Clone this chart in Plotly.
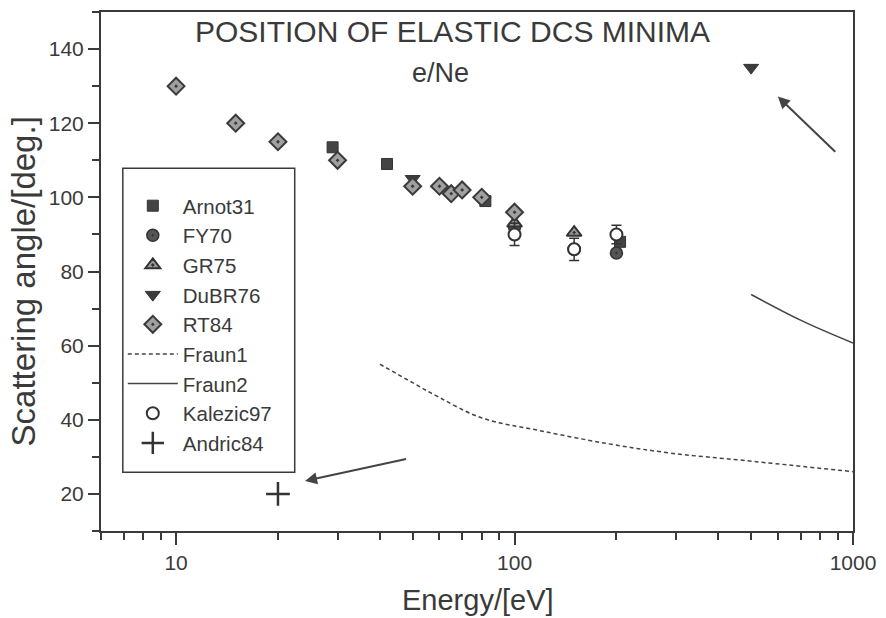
import plotly.graph_objects as go
import math

# ---- data ----
arnot_x = [29, 42, 82, 205]
arnot_y = [113.5, 109, 99, 88]
fy70_x = [100, 150, 200]
fy70_y = [92, 86, 85]
gr75_x = [100, 150]
gr75_y = [93, 90.5]
dubr_x = [50, 500]
dubr_y = [105, 135]
rt84_x = [10, 15, 20, 30, 50, 60, 65, 70, 80, 100]
rt84_y = [130, 120, 115, 110, 103, 103, 101, 102, 100, 96]
fraun1_x = [40, 50, 60, 80, 120, 190, 290, 480, 1000]
fraun1_y = [55, 50, 46, 40.5, 37, 33.5, 31, 29, 26]
fraun2_x = [500, 710, 1000]
fraun2_y = [73.8, 66.6, 60.7]
kal_x = [100, 150, 200]
kal_y = [90, 86, 90]
kal_err = [3, 3, 2.5]
andric_x = [20]
andric_y = [20]

DARK = "#3a3a3a"
FONT = "Liberation Sans, Arial, sans-serif"

fig = go.Figure()
fig.add_trace(go.Scatter(x=arnot_x, y=arnot_y, mode="markers", name="Arnot31",
                         marker=dict(symbol="square", size=11, color="#444444",
                                     line=dict(color="#333333", width=1))))
fig.add_trace(go.Scatter(x=fy70_x, y=fy70_y, mode="markers", name="FY70",
                         marker=dict(symbol="circle-dot", size=12, color="#555555",
                                     line=dict(color="#333333", width=1.5))))
fig.add_trace(go.Scatter(x=gr75_x, y=gr75_y, mode="markers", name="GR75",
                         marker=dict(symbol="triangle-up-dot", size=13, color="#9a9a9a",
                                     line=dict(color="#333333", width=2))))
fig.add_trace(go.Scatter(x=dubr_x, y=dubr_y, mode="markers", name="DuBR76",
                         marker=dict(symbol="triangle-down", size=13, color="#3c3c3c",
                                     line=dict(color="#333333", width=1))))
fig.add_trace(go.Scatter(x=rt84_x, y=rt84_y, mode="markers", name="RT84",
                         marker=dict(symbol="diamond-dot", size=13, color="#a0a0a0",
                                     line=dict(color="#3a3a3a", width=2))))
fig.add_trace(go.Scatter(x=fraun1_x, y=fraun1_y, mode="lines", name="Fraun1",
                         line=dict(color="#444444", width=1.5, dash="4px,3px", shape="spline")))
fig.add_trace(go.Scatter(x=fraun2_x, y=fraun2_y, mode="lines", name="Fraun2",
                         line=dict(color="#444444", width=1.5, shape="spline")))
fig.add_trace(go.Scatter(x=kal_x, y=kal_y, mode="markers", name="Kalezic97",
                         error_y=dict(type="data", array=kal_err, color="#333333",
                                      thickness=1.5, width=5),
                         marker=dict(symbol="circle", size=12, color="white",
                                     line=dict(color="#333333", width=2))))
fig.add_trace(go.Scatter(x=andric_x, y=andric_y, mode="markers", name="Andric84",
                         marker=dict(symbol="cross-thin", size=17,
                                     line=dict(color="#333333", width=2.5))))

axis_common = dict(showline=True, linecolor=DARK, linewidth=2, mirror=True,
                   showgrid=False, zeroline=False, ticks="outside",
                   tickcolor=DARK, tickwidth=2,
                   tickfont=dict(family=FONT, size=21, color=DARK))

fig.update_xaxes(type="log", range=[math.log10(6), 3], dtick=1, ticklen=12,
                 minor=dict(dtick="D1", ticks="outside", ticklen=7,
                            tickcolor=DARK, tickwidth=2, showgrid=False),
                 **axis_common)
fig.update_yaxes(range=[10, 150], dtick=20, tick0=0, ticklen=11,
                 minor=dict(dtick=10, tick0=0, ticks="outside", ticklen=7,
                            tickcolor=DARK, tickwidth=2, showgrid=False),
                 **axis_common)

annots = [
    dict(text="POSITION OF ELASTIC DCS MINIMA", x=0.468, y=0.962,
         font=dict(family=FONT, size=30, color=DARK)),
    dict(text="e/Ne", x=0.452, y=0.883,
         font=dict(family=FONT, size=27, color=DARK)),
    dict(text="Energy/[eV]", x=0.501, y=-0.132,
         font=dict(family=FONT, size=29, color=DARK)),
    dict(text="Scattering angle/[deg.]", x=-0.103, y=0.48, textangle=-90,
         font=dict(family=FONT, size=33, color=DARK)),
]
for a in annots:
    fig.add_annotation(xref="paper", yref="paper", showarrow=False,
                       xanchor="center", yanchor="middle", **a)

# arrows (pointing at isolated points)
fig.add_annotation(x=1.381, y=23.5, ax=1.684, ay=29.5, xref="x", yref="y",
                   axref="x", ayref="y", text="", showarrow=True,
                   arrowhead=2, arrowsize=1.2, arrowwidth=2, arrowcolor="#444444")
fig.add_annotation(x=2.778, y=127.2, ax=2.952, ay=111.9, xref="x", yref="y",
                   axref="x", ayref="y", text="", showarrow=True,
                   arrowhead=2, arrowsize=1.2, arrowwidth=2, arrowcolor="#444444")

# legend frame
fig.add_shape(type="rect", xref="paper", yref="paper",
              x0=0.029, x1=0.2576, y0=0.1132, y1=0.6987,
              line=dict(color=DARK, width=1.5), fillcolor="rgba(0,0,0,0)")

fig.update_layout(
    width=886, height=618,
    margin=dict(l=101, r=27, t=10, b=87),
    paper_bgcolor="white", plot_bgcolor="white",
    showlegend=True,
    legend=dict(x=0.029, y=0.665, xanchor="left", yanchor="top",
                borderwidth=0, bgcolor="rgba(0,0,0,0)",
                font=dict(family=FONT, size=20.5, color=DARK),
                itemwidth=50, tracegroupgap=0),
)

fig.write_html("out.html", config={"displayModeBar": False},
               post_script="document.body.style.margin='0px';document.body.style.overflow='hidden';")
